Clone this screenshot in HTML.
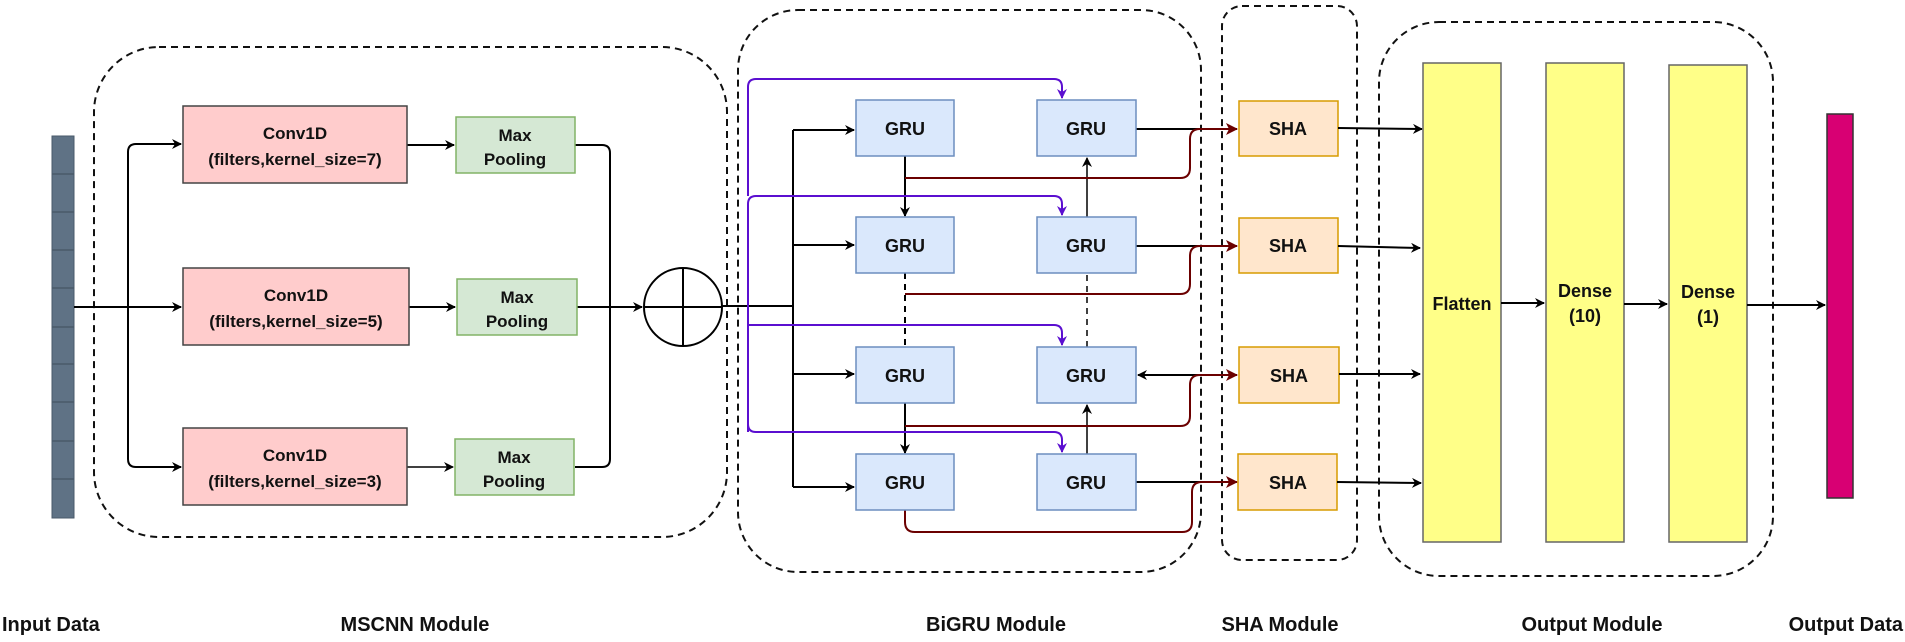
<!DOCTYPE html>
<html><head><meta charset="utf-8"><style>
html,body{margin:0;padding:0;background:#fff;}
svg{display:block;}
text{font-family:"Liberation Sans",Arial,sans-serif;font-weight:bold;fill:#111;}
</style></head><body>
<svg width="1905" height="642" viewBox="0 0 1905 642" xmlns="http://www.w3.org/2000/svg">
<defs>
<marker id="ab" markerWidth="10" markerHeight="10" refX="9" refY="5" orient="auto" markerUnits="userSpaceOnUse"><path d="M0,0 L10,5 L0,10 L3,5 z" fill="#000"/></marker>
<marker id="ap" markerWidth="10" markerHeight="10" refX="9" refY="5" orient="auto" markerUnits="userSpaceOnUse"><path d="M0,0 L10,5 L0,10 L3,5 z" fill="#5b0fd0"/></marker>
<marker id="ar" markerWidth="12" markerHeight="12" refX="11" refY="6" orient="auto" markerUnits="userSpaceOnUse"><path d="M0,0 L12,6 L0,12 L3,6 z" fill="#6b0000"/></marker>
</defs>

<g fill="none" stroke="#111" stroke-width="2" stroke-dasharray="7,5">
<rect x="94" y="47" width="633" height="490" rx="65"/>
<rect x="738" y="10" width="463" height="562" rx="60"/>
<rect x="1222" y="6" width="135" height="554" rx="20"/>
<rect x="1379" y="22" width="394" height="554" rx="60"/>
</g>

<rect x="52" y="136" width="22" height="382" fill="#5f7285" stroke="#4a5a6a"/>
<g stroke="#4a5a6a" stroke-width="1.5">
<line x1="52" y1="174" x2="74" y2="174"/><line x1="52" y1="212" x2="74" y2="212"/><line x1="52" y1="250" x2="74" y2="250"/><line x1="52" y1="288" x2="74" y2="288"/><line x1="52" y1="327" x2="74" y2="327"/><line x1="52" y1="364" x2="74" y2="364"/><line x1="52" y1="402" x2="74" y2="402"/><line x1="52" y1="441" x2="74" y2="441"/><line x1="52" y1="479" x2="74" y2="479"/>
</g>

<g stroke="#000" stroke-width="2" fill="none">
<line x1="74" y1="307" x2="128" y2="307"/>
<path d="M136,144 Q128,144 128,152 V459 Q128,467 136,467 H181" marker-end="url(#ab)"/>
<line x1="136" y1="144" x2="181" y2="144" marker-end="url(#ab)"/>
<line x1="128" y1="307" x2="181" y2="307" marker-end="url(#ab)"/>
<line x1="407" y1="145" x2="454" y2="145" marker-end="url(#ab)"/>
<line x1="409" y1="307" x2="455" y2="307" marker-end="url(#ab)"/>
<line x1="407" y1="467" x2="453" y2="467" stroke-width="1.5" marker-end="url(#ab)"/>
<path d="M575,145 H602 Q610,145 610,153 V459 Q610,467 602,467 H575"/>
<line x1="577" y1="307" x2="642" y2="307" marker-end="url(#ab)"/>
</g>
<g stroke="#444" stroke-width="1.5">
<rect x="183" y="106" width="224" height="77" fill="#ffcccc"/>
<rect x="183" y="268" width="226" height="77" fill="#ffcccc"/>
<rect x="183" y="428" width="224" height="77" fill="#ffcccc"/>
</g>
<g stroke="#82b366" stroke-width="1.5" fill="#d5e8d4">
<rect x="456" y="117" width="119" height="56"/>
<rect x="457" y="279" width="120" height="56"/>
<rect x="455" y="439" width="119" height="56"/>
</g>
<g font-size="17" text-anchor="middle">
<text x="295" y="139">Conv1D</text><text x="295" y="165">(filters,kernel_size=7)</text>
<text x="296" y="301">Conv1D</text><text x="296" y="327">(filters,kernel_size=5)</text>
<text x="295" y="461">Conv1D</text><text x="295" y="487">(filters,kernel_size=3)</text>
<text x="515" y="141">Max</text><text x="515" y="165">Pooling</text>
<text x="517" y="303">Max</text><text x="517" y="327">Pooling</text>
<text x="514" y="463">Max</text><text x="514" y="487">Pooling</text>
</g>

<g stroke="#000" stroke-width="2" fill="#fff">
<circle cx="683" cy="307" r="39"/>
<line x1="644" y1="307" x2="722" y2="307"/><line x1="683" y1="268" x2="683" y2="346"/>
</g>

<g stroke="#000" stroke-width="2" fill="none">
<line x1="722" y1="306" x2="793" y2="306"/>
<line x1="793" y1="130" x2="793" y2="487"/>
<line x1="793" y1="130" x2="854" y2="130" marker-end="url(#ab)"/>
<line x1="793" y1="245" x2="854" y2="245" marker-end="url(#ab)"/>
<line x1="793" y1="374" x2="854" y2="374" marker-end="url(#ab)"/>
<line x1="793" y1="487" x2="854" y2="487" marker-end="url(#ab)"/>
<line x1="905" y1="156" x2="905" y2="216" marker-end="url(#ab)"/>
<line x1="905" y1="273" x2="905" y2="347" stroke-dasharray="6,5"/>
<line x1="905" y1="403" x2="905" y2="453" marker-end="url(#ab)"/>
<line x1="1087" y1="217" x2="1087" y2="158" stroke-width="1.5" marker-end="url(#ab)"/>
<line x1="1087" y1="347" x2="1087" y2="273" stroke-width="1.5" stroke-dasharray="6,5"/>
<line x1="1087" y1="454" x2="1087" y2="405" stroke-width="1.5" marker-end="url(#ab)"/>
</g>
<g stroke="#5b0fd0" stroke-width="2" fill="none">
<path d="M748,196 V87 Q748,79 756,79 H1054 Q1062,79 1062,87 V98" marker-end="url(#ap)"/>
<path d="M748,432 V204 Q748,196 756,196 H1054 Q1062,196 1062,204 V215" marker-end="url(#ap)"/>
<path d="M748,325 H1054 Q1062,325 1062,333 V345" marker-end="url(#ap)"/>
<path d="M748,424 Q748,432 756,432 H1054 Q1062,432 1062,440 V452" marker-end="url(#ap)"/>
</g>
<g stroke="#000" stroke-width="2" fill="none">
<line x1="1136" y1="129" x2="1230" y2="129"/>
<line x1="1136" y1="246" x2="1230" y2="246"/>
<line x1="1230" y1="375" x2="1138" y2="375" marker-end="url(#ab)"/>
<line x1="1136" y1="482" x2="1230" y2="482"/>
</g>
<g stroke="#6b0000" stroke-width="2" fill="none">
<path d="M905,178 H1180 Q1190,178 1190,168 V139 Q1190,129 1200,129 H1237" marker-end="url(#ar)"/>
<path d="M905,294 H1180 Q1190,294 1190,284 V256 Q1190,246 1200,246 H1237" marker-end="url(#ar)"/>
<path d="M905,426 H1180 Q1190,426 1190,416 V385 Q1190,375 1200,375 H1237" marker-end="url(#ar)"/>
<path d="M905,510 V522 Q905,532 915,532 H1182 Q1192,532 1192,522 V492 Q1192,482 1202,482 H1237" marker-end="url(#ar)"/>
</g>
<g stroke="#6c8ebf" stroke-width="1.5" fill="#dae8fc">
<rect x="856" y="100" width="98" height="56"/><rect x="1037" y="100" width="99" height="56"/>
<rect x="856" y="217" width="98" height="56"/><rect x="1037" y="217" width="99" height="56"/>
<rect x="856" y="347" width="98" height="56"/><rect x="1037" y="347" width="99" height="56"/>
<rect x="856" y="454" width="98" height="56"/><rect x="1037" y="454" width="99" height="56"/>
</g>
<g font-size="18" text-anchor="middle">
<text x="905" y="135">GRU</text><text x="1086" y="135">GRU</text>
<text x="905" y="252">GRU</text><text x="1086" y="252">GRU</text>
<text x="905" y="382">GRU</text><text x="1086" y="382">GRU</text>
<text x="905" y="489">GRU</text><text x="1086" y="489">GRU</text>
</g>

<g stroke="#d79b00" stroke-width="1.5" fill="#ffe6cc">
<rect x="1239" y="101" width="99" height="55"/>
<rect x="1239" y="218" width="99" height="55"/>
<rect x="1239" y="347" width="100" height="56"/>
<rect x="1238" y="454" width="99" height="56"/>
</g>
<g font-size="18" text-anchor="middle">
<text x="1288" y="135">SHA</text><text x="1288" y="252">SHA</text><text x="1289" y="382">SHA</text><text x="1288" y="489">SHA</text>
</g>
<g stroke="#000" stroke-width="2" fill="none">
<line x1="1338" y1="128" x2="1422" y2="129" marker-end="url(#ab)"/>
<line x1="1338" y1="246" x2="1420" y2="248" marker-end="url(#ab)"/>
<line x1="1339" y1="374" x2="1420" y2="374" marker-end="url(#ab)"/>
<line x1="1337" y1="482" x2="1421" y2="483" marker-end="url(#ab)"/>
</g>

<g stroke="#666" stroke-width="1.5" fill="#ffff88">
<rect x="1423" y="63" width="78" height="479"/>
<rect x="1546" y="63" width="78" height="479"/>
<rect x="1669" y="65" width="78" height="477"/>
</g>
<rect x="1827" y="114" width="26" height="384" fill="#d80073" stroke="#333" stroke-width="1.5"/>
<g stroke="#000" stroke-width="2" fill="none">
<line x1="1501" y1="303" x2="1544" y2="303" marker-end="url(#ab)"/>
<line x1="1624" y1="304" x2="1667" y2="304" marker-end="url(#ab)"/>
<line x1="1747" y1="305" x2="1825" y2="305" marker-end="url(#ab)"/>
</g>
<g font-size="18" text-anchor="middle">
<text x="1462" y="310">Flatten</text>
<text x="1585" y="297">Dense</text><text x="1585" y="322">(10)</text>
<text x="1708" y="298">Dense</text><text x="1708" y="323">(1)</text>
</g>

<g font-size="20">
<text x="2" y="631">Input Data</text>
<text x="415" y="631" text-anchor="middle">MSCNN Module</text>
<text x="996" y="631" text-anchor="middle">BiGRU Module</text>
<text x="1280" y="631" text-anchor="middle">SHA Module</text>
<text x="1592" y="631" text-anchor="middle">Output Module</text>
<text x="1903" y="631" text-anchor="end">Output Data</text>
</g>
</svg>
</body></html>
